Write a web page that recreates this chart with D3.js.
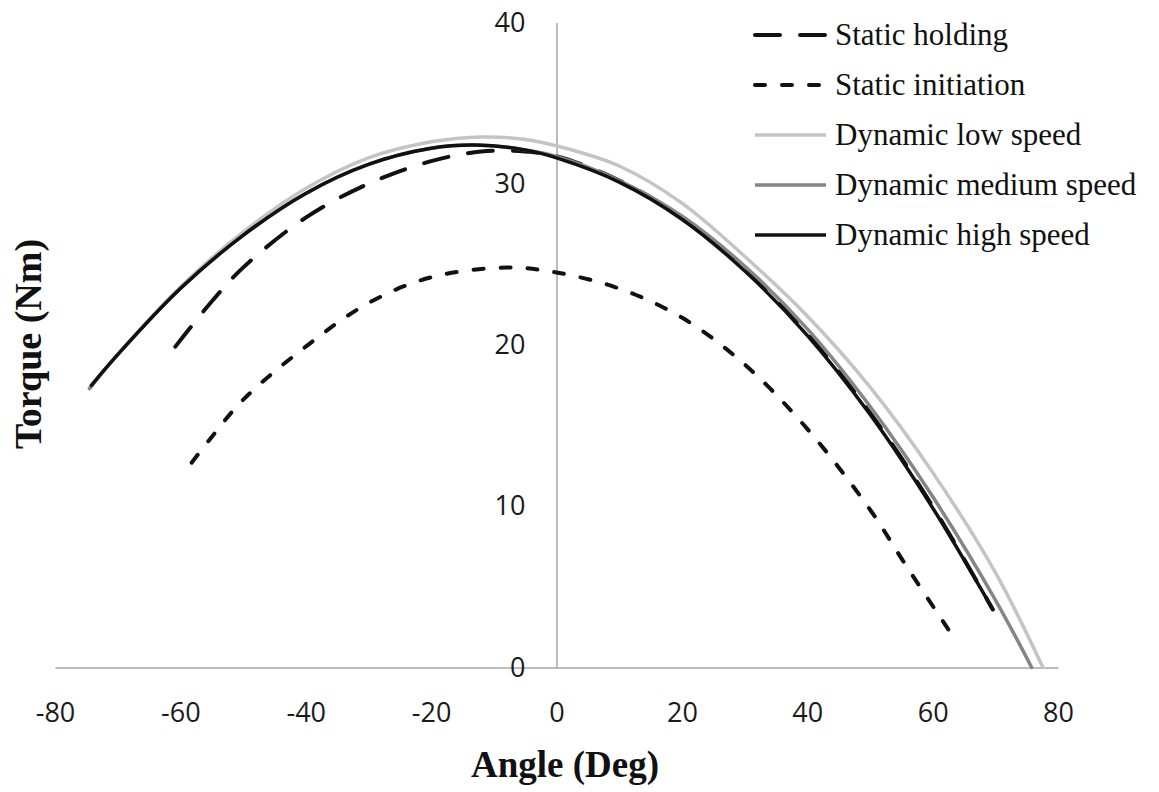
<!DOCTYPE html>
<html>
<head>
<meta charset="utf-8">
<script src="https://cdn.jsdelivr.net/npm/d3@7"></script>
<style>
  body { margin: 0; background: #fff; }
  .tick text { font-family: "Open Sans", sans-serif; font-size: 27px; fill: #1a1a1a; }
  .axis path { stroke: #a6a6a6; stroke-width: 1.5px; }
</style>
</head>
<body>
<div id="chart"></div>
<script>
var width = 1159,
    height = 792;

// tick labels
var xTicks = [-80, -60, -40, -20, 0, 20, 40, 60, 80];
var yTicks = [0, 10, 20, 30, 40];

// series (angle in deg, torque in Nm)
var holdAngle  = [-60.8, -55, -50, -40, -30, -20, -12, -5, 0, 10, 20, 30, 40, 50, 60, 69.6];
var holdTorque = [19.9, 22.7, 24.8, 27.9, 30.0, 31.4, 32.0, 32.0, 31.7, 30.2, 27.9, 24.7, 20.7, 15.8, 10.0, 3.6];

var initAngle  = [-58.2, -55, -50, -40, -30, -20, -8, 0, 10, 20, 30, 40, 50, 55.3, 62.6];
var initTorque = [12.7, 14.3, 16.6, 19.9, 22.6, 24.2, 24.8, 24.5, 23.5, 21.7, 18.8, 14.8, 9.8, 6.6, 2.3];

var lowAngle  = [-74.5, -70, -60, -50, -40, -30, -20, -12, -5, 0, 10, 20, 30, 40, 50, 60, 70, 77.6];
var lowTorque = [17.3, 19.4, 23.6, 27.0, 29.7, 31.6, 32.6, 32.9, 32.75, 32.35, 31.1, 28.8, 25.5, 21.8, 17.4, 12.1, 5.9, 0];

var medAngle  = [-74.5, -70, -60, -50, -40, -30, -20, -13, -5, 0, 10, 20, 30, 40, 50, 60, 70, 75.8];
var medTorque = [17.3, 19.4, 23.5, 26.8, 29.4, 31.2, 32.2, 32.4, 32.1, 31.7, 30.2, 28.0, 24.9, 21.0, 16.2, 10.6, 4.2, 0];

var highAngle  = [-74.2, -70, -60, -50, -40, -30, -20, -13, -5, 0, 10, 20, 30, 40, 50, 60, 69.6];
var highTorque = [17.5, 19.4, 23.5, 26.8, 29.4, 31.2, 32.2, 32.4, 32.1, 31.6, 30.1, 27.8, 24.6, 20.6, 15.7, 9.9, 3.6];

var seriesNames = ["Static holding", "Static initiation", "Dynamic low speed",
                   "Dynamic medium speed", "Dynamic high speed"];

function zipSeries(a, t) {
    return a.map(function (d, i) { return { angle: d, torque: t[i] }; });
}

var series = [
    { name: seriesNames[0], values: zipSeries(holdAngle, holdTorque), color: "#111", dash: "25,20" },
    { name: seriesNames[1], values: zipSeries(initAngle, initTorque), color: "#111", dash: "10,17" },
    { name: seriesNames[2], values: zipSeries(lowAngle, lowTorque), color: "#c4c4c4", dash: null },
    { name: seriesNames[3], values: zipSeries(medAngle, medTorque), color: "#858585", dash: null },
    { name: seriesNames[4], values: zipSeries(highAngle, highTorque), color: "#111", dash: null }
];

var svg = d3.select("#chart")
    .append("svg")
    .attr("width", width)
    .attr("height", height);

// scales
var x = d3.scaleLinear().domain([-80, 80]).range([55, 1058]);
var y = d3.scaleLinear().domain([0, 40]).range([667.5, 22.5]);

// plain hyphen for negatives, like the original
var plain = (d) => String(d);

// x axis sits on torque = 0
svg.append("g")
    .attr("class", "axis")
    .attr("transform", "translate(0," + y(0) + ")")
    .call(d3.axisBottom(x).tickValues(xTicks).tickFormat(plain)
        .tickSize(0).tickSizeOuter(0).tickPadding(35));

// y axis sits on angle = 0
svg.append("g")
    .attr("class", "axis")
    .attr("transform", "translate(" + x(0) + ",0)")
    .call(d3.axisLeft(y).tickValues(yTicks).tickFormat(plain)
        .tickSize(0).tickSizeOuter(0).tickPadding(31));

// lines
var line = d3.line()
    .x((d) => x(d.angle))
    .y((d) => y(d.torque))
    .curve(d3.curveCatmullRom.alpha(0.5));

svg.selectAll(".series")
    .data(series)
    .enter()
    .append("path")
    .attr("class", "series")
    .attr("d", (d) => line(d.values))
    .attr("fill", "none")
    .attr("stroke", (d) => d.color)
    .attr("stroke-width", (d) => d.dash ? 4 : 3.5)
    .attr("stroke-linecap", "round")
    .attr("stroke-dasharray", (d) => d.dash);

// legend
var legend = svg.selectAll(".legend")
    .data(series)
    .enter()
    .append("g")
    .attr("class", "legend")
    .attr("transform", (d, i) => "translate(753," + (35 + i * 50) + ")");

legend.append("line")
    .attr("x1", 2)
    .attr("x2", 73)
    .attr("stroke", (d) => d.color)
    .attr("stroke-width", (d) => d.dash ? 4 : 3.5)
    .attr("stroke-linecap", (d) => d.dash ? "round" : "butt")
    .attr("stroke-dasharray", (d) => d.dash);

legend.append("text")
    .attr("x", 82)
    .attr("dy", "0.32em")
    .style("font-family", "'Liberation Serif', 'Times New Roman', serif")
    .style("font-size", "31px")
    .attr("fill", "#111")
    .text((d) => d.name);

// axis titles
svg.append("text")
    .attr("x", 565)
    .attr("y", 777)
    .attr("text-anchor", "middle")
    .style("font-family", "'Liberation Serif', 'Times New Roman', serif")
    .style("font-size", "37px")
    .style("font-weight", "bold")
    .attr("fill", "#111")
    .text("Angle (Deg)");

svg.append("text")
    .attr("transform", "translate(41,344) rotate(-90)")
    .attr("text-anchor", "middle")
    .style("font-family", "'Liberation Serif', 'Times New Roman', serif")
    .style("font-size", "38px")
    .style("font-weight", "bold")
    .attr("fill", "#111")
    .text("Torque (Nm)");
</script>
</body>
</html>
